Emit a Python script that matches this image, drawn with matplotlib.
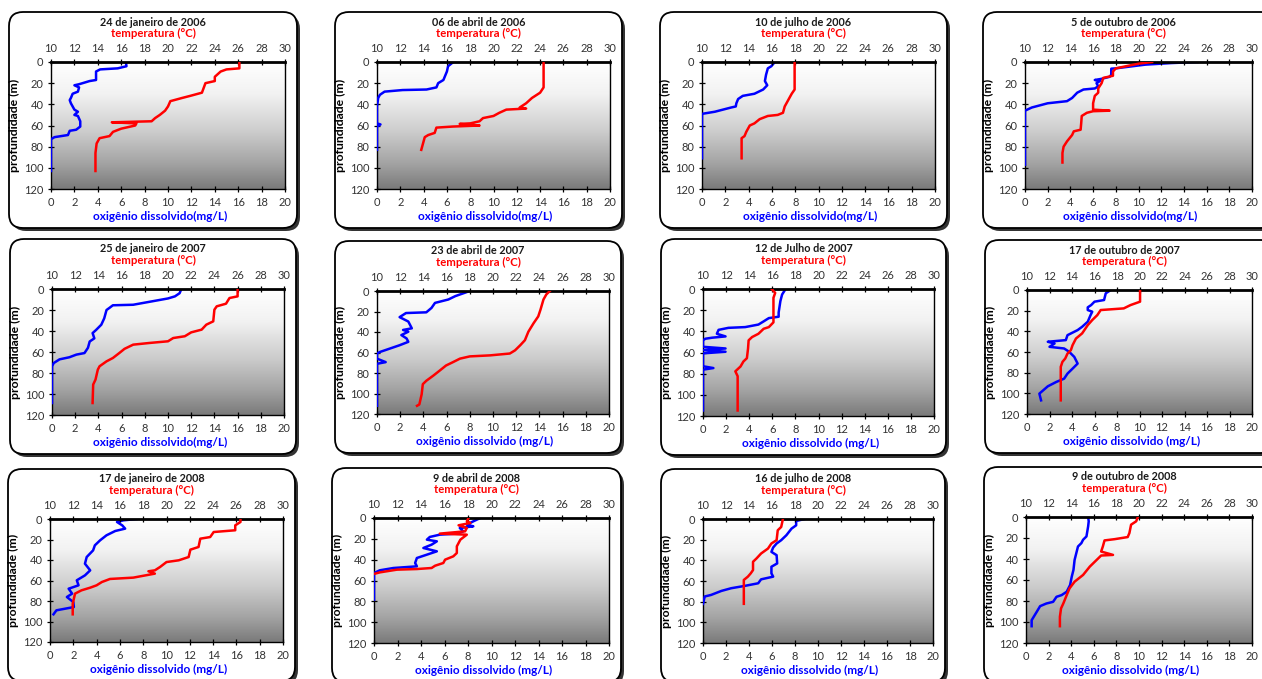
import numpy as np
import matplotlib
matplotlib.use("Agg")
import matplotlib.pyplot as plt
from matplotlib.patches import FancyBboxPatch
from matplotlib.transforms import IdentityTransform
from matplotlib.colors import LinearSegmentedColormap

plt.rcParams['font.family'] = ['Lato', 'DejaVu Sans']

# ---------------- data ----------------
titles = ["24 de janeiro de 2006", "06 de abril de 2006", "10 de julho de 2006", "5 de outubro de 2006",
          "25 de janeiro de 2007", "23 de abril de 2007", "12 de Julho de 2007", "17 de outubro de 2007",
          "17 de janeiro de 2008", "9 de abril de 2008", "16 de julho de 2008", "9 de outubro de 2008"]
xlabels = ["oxigênio dissolvido(mg/L)"] * 5 + ["oxigênio dissolvido (mg/L)"] * 7
temp_ticks = list(range(10, 31, 2))
oxy_ticks = list(range(0, 21, 2))
depth_ticks = list(range(0, 121, 20))

# Panel 1: 24 jan 2006
od1 = [0, 4, 6, 7, 9, 17, 18, 21, 22, 24, 28, 30, 34, 36, 39, 45, 47, 50, 51, 56, 61, 64, 65, 69, 71, 73, 103]
ov1 = [6.4, 6.45, 5.7, 4.2, 3.85, 3.85, 3.3, 2.4, 2.0, 2.4, 2.3, 1.85, 1.7, 1.6, 1.7, 2.0, 2.3, 2.0, 2.3, 2.5, 2.5, 2.15, 1.6, 1.45, 0.3, 0, 0]
td1 = [0, 6, 7, 9, 14, 18, 20, 29, 32, 34, 37, 42, 46, 50, 53, 56, 57, 58, 60, 63, 66, 70, 72, 77, 86, 103]
tv1 = [26.1, 26.1, 25.0, 24.5, 24.0, 24.0, 23.2, 22.9, 21.9, 21.2, 20.2, 20.0, 19.75, 19.3, 18.9, 18.6, 15.2, 17.3, 17.2, 16.0, 15.3, 15.0, 14.15, 13.9, 13.8, 13.8]

# Panel 2: 06 abr 2006
od2 = [0, 4, 9, 17, 20, 24, 26, 26.5, 28, 31, 34, 42, 58, 59, 61, 83]
ov2 = [6.55, 6.1, 6.0, 5.7, 5.25, 5.1, 4.25, 2.2, 0.65, 0.25, 0.1, 0, 0, 0.3, 0, 0]
td2 = [0, 24, 29, 34, 39, 43, 44, 45, 48, 51, 53, 56, 58, 58.5, 60, 61, 62, 67, 69, 71, 77, 83]
tv2 = [24.3, 24.3, 24.0, 23.3, 22.8, 22.25, 22.8, 21.1, 20.5, 20.0, 19.1, 18.8, 18.0, 17.1, 18.8, 16.5, 15.1, 14.95, 14.4, 14.1, 13.95, 13.8]

# Panel 3: 10 jul 2006
od3 = [0, 4, 6, 12, 18, 22, 26, 30, 32, 35, 39, 42, 43, 45, 47, 49, 91]
ov3 = [6.25, 5.95, 5.65, 5.5, 5.4, 5.6, 5.25, 4.5, 3.5, 3.1, 2.95, 2.9, 2.5, 1.8, 1.1, 0, 0]
td3 = [0, 26, 30, 36, 42, 48, 50, 51, 54, 58, 60, 66, 70, 72, 91]
tv3 = [17.95, 17.95, 17.7, 17.4, 17.1, 16.95, 16.5, 15.65, 14.95, 14.5, 14.1, 13.8, 13.65, 13.4, 13.4]

# Panel 4: 5 out 2006
od4 = [0, 1, 2.5, 6, 6.3, 12, 14, 16, 17, 18, 20, 23, 25, 26, 29, 34, 37, 39, 41, 43, 46, 97]
ov4 = [15.2, 12.9, 10.6, 8.0, 7.6, 7.6, 7.45, 6.7, 6.15, 6.6, 6.3, 6.45, 6.15, 5.15, 4.6, 4.15, 3.7, 2.0, 1.3, 0.6, 0, 0]
td4 = [0, 1.6, 4, 6, 9, 13, 15, 20, 25, 29, 32, 39, 45, 46, 46.5, 48, 51, 58, 64, 65.5, 69, 75, 80, 86, 95]
tv4 = [21.2, 20.0, 18.9, 18.0, 17.75, 17.75, 16.9, 16.75, 16.45, 16.45, 16.15, 16.0, 16.0, 17.45, 16.0, 15.45, 15.0, 14.95, 14.9, 14.3, 14.15, 13.7, 13.4, 13.3, 13.3]

# Panel 5: 25 jan 2007
od5 = [0, 4, 7, 9, 11, 13, 15, 15.5, 18, 20, 28, 34, 39, 42, 47, 50, 56, 61, 62.5, 65, 67, 70.5, 73.6, 108.6]
ov5 = [11.15, 11.0, 10.6, 10.0, 9.0, 8.0, 7.0, 5.25, 4.95, 4.7, 4.5, 4.25, 3.8, 3.5, 3.65, 3.25, 3.1, 2.8, 2.1, 1.5, 0.65, 0.15, 0, 0]
td5 = [0, 7, 8.6, 14, 16.5, 19.7, 30.8, 34, 38.7, 41.3, 45, 46.7, 49.8, 51.4, 53, 57, 61, 65.7, 68.9, 73.6, 76.8, 86.3, 91, 108.6]
tv5 = [26.0, 26.0, 25.3, 25.0, 24.2, 24.0, 23.9, 23.3, 22.9, 22.0, 21.45, 20.45, 20.0, 18.4, 17.0, 16.25, 15.8, 15.25, 14.7, 14.1, 13.95, 13.75, 13.55, 13.5]

# Panel 6: 23 abr 2007
od6 = [0, 5, 8.3, 11.6, 16.5, 20.8, 21.5, 25.5, 29.8, 36.4, 38, 39.7, 43, 46.3, 49.6, 52.9, 56.2, 59.5, 61, 66, 69.4, 71, 112]
ov6 = [8.0, 6.75, 6.15, 5.0, 4.7, 4.25, 2.5, 1.95, 2.7, 3.0, 2.25, 2.7, 2.1, 2.55, 2.7, 1.95, 1.1, 0.25, 0, 0, 0.75, 0, 0]
td6 = [0, 3.3, 8.3, 18, 24.8, 31.4, 39.7, 48, 52.9, 57.9, 61, 62.8, 63.8, 66, 69.4, 72.7, 77.7, 82.6, 87.6, 90.9, 100.8, 110.7, 112]
tv6 = [24.9, 24.6, 24.35, 24.1, 23.9, 23.5, 23.05, 22.75, 22.35, 21.9, 21.45, 19.75, 18.0, 17.15, 16.55, 15.95, 15.4, 14.85, 14.25, 13.95, 13.85, 13.65, 13.45]

# Panel 7: 12 jul 2007
od7 = [0, 5.2, 11.4, 22.2, 26.2, 27.5, 30.6, 33.6, 36, 36.7, 38.6, 42.3, 44.8, 46, 47, 48.5, 54.6, 56.2, 57.7, 59.3, 60.8, 73, 74.7, 76.2, 114.8]
ov7 = [7.15, 6.85, 6.7, 6.55, 6.55, 5.7, 5.25, 4.8, 3.65, 2.2, 1.35, 1.2, 1.95, 0.8, 0.2, 0, 0, 1.95, 0, 1.95, 0, 0, 0.9, 0, 0]
td7 = [0, 3.7, 8.3, 20.7, 31.5, 36, 37.6, 42.3, 45.4, 48.5, 56.2, 65.4, 68.5, 73.2, 77.8, 82.4, 91.7, 114.8]
tv7 = [15.95, 16.25, 16.1, 16.1, 16.1, 15.7, 15.25, 14.8, 14.25, 13.95, 13.9, 13.8, 13.5, 13.25, 12.8, 13.0, 13.0, 13.0]

# Panel 8: 17 out 2007
od8 = [0, 3.2, 9.7, 11.3, 14.6, 16.8, 19.4, 21, 24.3, 30.7, 35.6, 38.8, 43.7, 48.5, 50.1, 51.8, 55, 56.6, 59.8, 63.1, 64.7, 71.2, 76.1, 80.9, 85.8, 89, 93.2, 100.3, 106.8]
ov8 = [7.45, 7.0, 6.85, 6.0, 5.7, 5.4, 5.4, 5.8, 5.65, 5.4, 4.9, 4.5, 3.6, 3.45, 1.85, 2.45, 2.0, 3.3, 3.75, 4.05, 4.2, 4.5, 4.05, 3.6, 3.3, 2.6, 1.85, 1.1, 1.25]
td8 = [0, 11.3, 14.6, 17.8, 19.4, 24.3, 29.1, 34, 42, 47, 53.4, 58.2, 61.5, 66.3, 69.5, 74.4, 106.8]
tv8 = [20.05, 20.05, 19.2, 18.6, 16.55, 16.25, 15.8, 15.4, 14.9, 14.35, 14.05, 13.9, 13.6, 13.4, 13.15, 13.0, 13.0]

# Panel 9: 17 jan 2008
od9 = [0, 1.3, 2.9, 6.2, 9.4, 11.7, 15.9, 20.8, 25.7, 30.6, 37.1, 43.6, 50.1, 55, 59.8, 64.7, 68, 72.8, 76.1, 81, 85.9, 89.1, 93]
ov9 = [7.45, 6.3, 5.75, 6.2, 6.45, 5.6, 4.85, 4.3, 3.85, 3.7, 3.15, 3.0, 3.45, 3.0, 2.3, 2.45, 1.6, 1.9, 1.45, 2.0, 2.05, 0.55, 0.3]
td9 = [0, 2.9, 6.2, 11, 12.7, 17.6, 19.2, 27.3, 29.9, 37.1, 40.3, 42, 46.8, 50.1, 51, 53.3, 57.2, 58.5, 61.5, 64.7, 67, 69.6, 72.8, 82.6, 93]
tv9 = [26.35, 26.35, 25.9, 25.9, 24.05, 23.75, 22.9, 22.75, 22.05, 21.9, 21.05, 20.0, 19.45, 19.0, 18.45, 19.0, 17.15, 15.15, 14.45, 14.0, 13.45, 12.7, 12.15, 11.95, 11.95]

# Panel 10: 9 abr 2008
od10 = [0, 3.2, 6.4, 8, 9.6, 12.8, 15, 16, 18.2, 20.8, 22.4, 25.6, 28.8, 32, 35.2, 38.4, 43.2, 46.4, 48, 50.2, 52.8, 78.4]
ov10 = [9.05, 8.45, 7.9, 8.45, 7.3, 7.6, 7.05, 5.6, 4.75, 4.5, 5.35, 4.9, 4.2, 5.35, 4.5, 3.65, 3.5, 3.65, 1.65, 0.5, 0, 0]
td10 = [0, 3.2, 4.8, 7, 9.6, 12.8, 15, 16, 20.8, 27.2, 33.6, 36.8, 40, 43.2, 45.8, 48, 49, 49.6, 52.2, 53.4]
tv10 = [18.05, 17.9, 18.2, 17.2, 17.9, 17.75, 15.6, 17.9, 17.35, 17.05, 17.05, 16.75, 16.05, 15.9, 15.2, 14.9, 13.65, 11.95, 10.5, 10.1]

# Panel 11: 16 jul 2008
od11 = [0, 1.9, 6.1, 9.3, 15.7, 20.5, 23.7, 27.6, 31.8, 35, 43, 46.2, 52.6, 55.8, 58.4, 62.2, 64.8, 67, 69.6, 73.5, 75, 82.1]
ov11 = [8.85, 8.1, 8.1, 7.7, 7.25, 6.8, 6.4, 6.1, 5.95, 6.4, 6.45, 5.95, 5.95, 6.1, 5.05, 4.8, 3.6, 2.45, 1.6, 0.7, 0.15, 0]
td11 = [0, 7.7, 10.9, 20.5, 23.7, 28.6, 33.4, 38.2, 41.4, 49.4, 52.6, 55.8, 59, 65.4, 82.1]
tv11 = [16.95, 16.8, 16.5, 16.4, 15.95, 15.65, 15.05, 14.65, 14.35, 14.35, 14.15, 13.9, 13.55, 13.55, 13.55]

# Panel 12: 9 out 2008
od12 = [0, 4.1, 8.9, 18.5, 21.7, 24.9, 28.1, 34.5, 40.9, 50.4, 56.8, 64.8, 71.2, 74.4, 76, 80.8, 82.4, 84.9, 90.3, 98.3, 104]
ov12 = [5.5, 5.55, 5.5, 5.35, 5.05, 4.9, 4.6, 4.45, 4.3, 4.2, 4.05, 3.9, 3.6, 3.15, 2.7, 2.4, 1.8, 1.25, 0.95, 0.5, 0.5]
td12 = [0, 4.1, 7.3, 15.3, 19.1, 21.1, 22.3, 28.1, 32.9, 36.1, 36.7, 40.9, 47.2, 55.2, 61.6, 68, 74.4, 82.4, 87.1, 95.1, 104]
tv12 = [19.9, 19.75, 19.3, 19.15, 19.0, 17.85, 16.95, 16.8, 16.65, 17.7, 16.65, 16.25, 15.65, 15.05, 14.3, 13.85, 13.6, 13.3, 13.1, 13.0, 13.0]

oxy_depths = [od1, od2, od3, od4, od5, od6, od7, od8, od9, od10, od11, od12]
oxy_values = [ov1, ov2, ov3, ov4, ov5, ov6, ov7, ov8, ov9, ov10, ov11, ov12]
temp_depths = [td1, td2, td3, td4, td5, td6, td7, td8, td9, td10, td11, td12]
temp_values = [tv1, tv2, tv3, tv4, tv5, tv6, tv7, tv8, tv9, tv10, tv11, tv12]

# ---------------- layout (pixels) ----------------
W, H = 1262, 679
fig = plt.figure(figsize=(W / 100, H / 100), dpi=100)
fig.patch.set_facecolor('white')

# left, right, top, bottom of plotting area in pixels
rects = [(51, 285, 62, 189), (377, 610, 62, 189), (702, 935, 62, 189), (1025, 1252, 62, 189),
         (52, 284, 289, 415), (377, 609, 291, 414), (703, 934, 289, 416), (1027, 1252, 290, 414),
         (50, 283, 519, 642), (374, 609, 518, 643), (703, 933, 519, 643), (1026, 1252, 517, 643)]

grad_cmap = LinearSegmentedColormap.from_list(
    'g', [(0, '#ffffff'), (0.25, '#f2f2f2'), (0.55, '#cccccc'), (0.8, '#a3a3a3'), (1.0, '#7a7a7a')])
grad = np.linspace(0, 1, 256)[:, None]

tick_color = '#333333'
fs_tick = 8.0
fs_title = 7.8
fs_lab = 8.2

for i, (l, r, t, b) in enumerate(rects):
    # panel box with shadow
    bl, br, bt, bb = l - 42, r + 12, t - 50, b + 39
    if i % 4 == 3:
        br = 1275
    shadow = FancyBboxPatch((bl + 3, H - bb - 3), br - bl, bb - bt,
                            boxstyle="round,pad=0,rounding_size=14",
                            transform=IdentityTransform(), facecolor='#333333',
                            edgecolor='none', zorder=0)
    box = FancyBboxPatch((bl, H - bb), br - bl, bb - bt,
                         boxstyle="round,pad=0,rounding_size=14",
                         transform=IdentityTransform(), facecolor='white',
                         edgecolor='black', linewidth=1.3, zorder=0.5)
    fig.patches.extend([shadow, box])

    ax = fig.add_axes([l / W, 1 - b / H, (r - l) / W, (b - t) / H])
    ax.set_zorder(2)
    ax.imshow(grad, extent=(0, 20, 120, 0), aspect='auto', cmap=grad_cmap,
              origin='upper', zorder=0, interpolation='bilinear')
    ax.plot(oxy_values[i], oxy_depths[i], color='#0000ff', lw=1.8, zorder=3,
            solid_joinstyle='round')
    ax.set_xlim(0, 20)
    ax.set_ylim(120, 0)
    ax.set_xticks(oxy_ticks)
    ax.set_yticks(depth_ticks)
    ax.tick_params(axis='both', direction='inout', length=5, width=0.9,
                   labelsize=fs_tick, labelcolor=tick_color, pad=3)
    for s in ['left', 'bottom', 'right']:
        ax.spines[s].set_color('black')
        ax.spines[s].set_linewidth(1.0)
    ax.spines['top'].set_visible(False)
    ax.set_ylabel('profundidade (m)', fontsize=fs_lab + 0.6, fontweight='bold', labelpad=3)

    tx = ax.twiny()
    tx.plot(temp_values[i], temp_depths[i], color='#ff0000', lw=1.8, zorder=3,
            solid_joinstyle='round')
    tx.set_xlim(10, 30)
    tx.set_ylim(120, 0)
    tx.set_xticks(temp_ticks)
    tx.tick_params(axis='x', direction='inout', length=5, width=0.9,
                   labelsize=fs_tick, labelcolor=tick_color, pad=3)
    for s in ['left', 'bottom', 'right']:
        tx.spines[s].set_visible(False)
    tx.spines['top'].set_linewidth(2.0)
    tx.spines['top'].set_color('black')

    cx_box = (l - 42 + r + 12) / 2
    fig.text(cx_box / W, 1 - (t - 40) / H, titles[i], ha='center', va='center',
             fontsize=fs_title, fontweight='bold', color='#1a1a1a')
    fig.text(cx_box / W, 1 - (t - 29) / H, 'temperatura (°C)', ha='center', va='center',
             fontsize=fs_lab, fontweight='bold', color='#ff0000')
    fig.text(((l + r) / 2 - 8) / W, 1 - (b + 27) / H, xlabels[i], ha='center', va='center',
             fontsize=fs_lab + 0.3, fontweight='bold', color='#0000ff')

fig.savefig('out.png', dpi=100)
